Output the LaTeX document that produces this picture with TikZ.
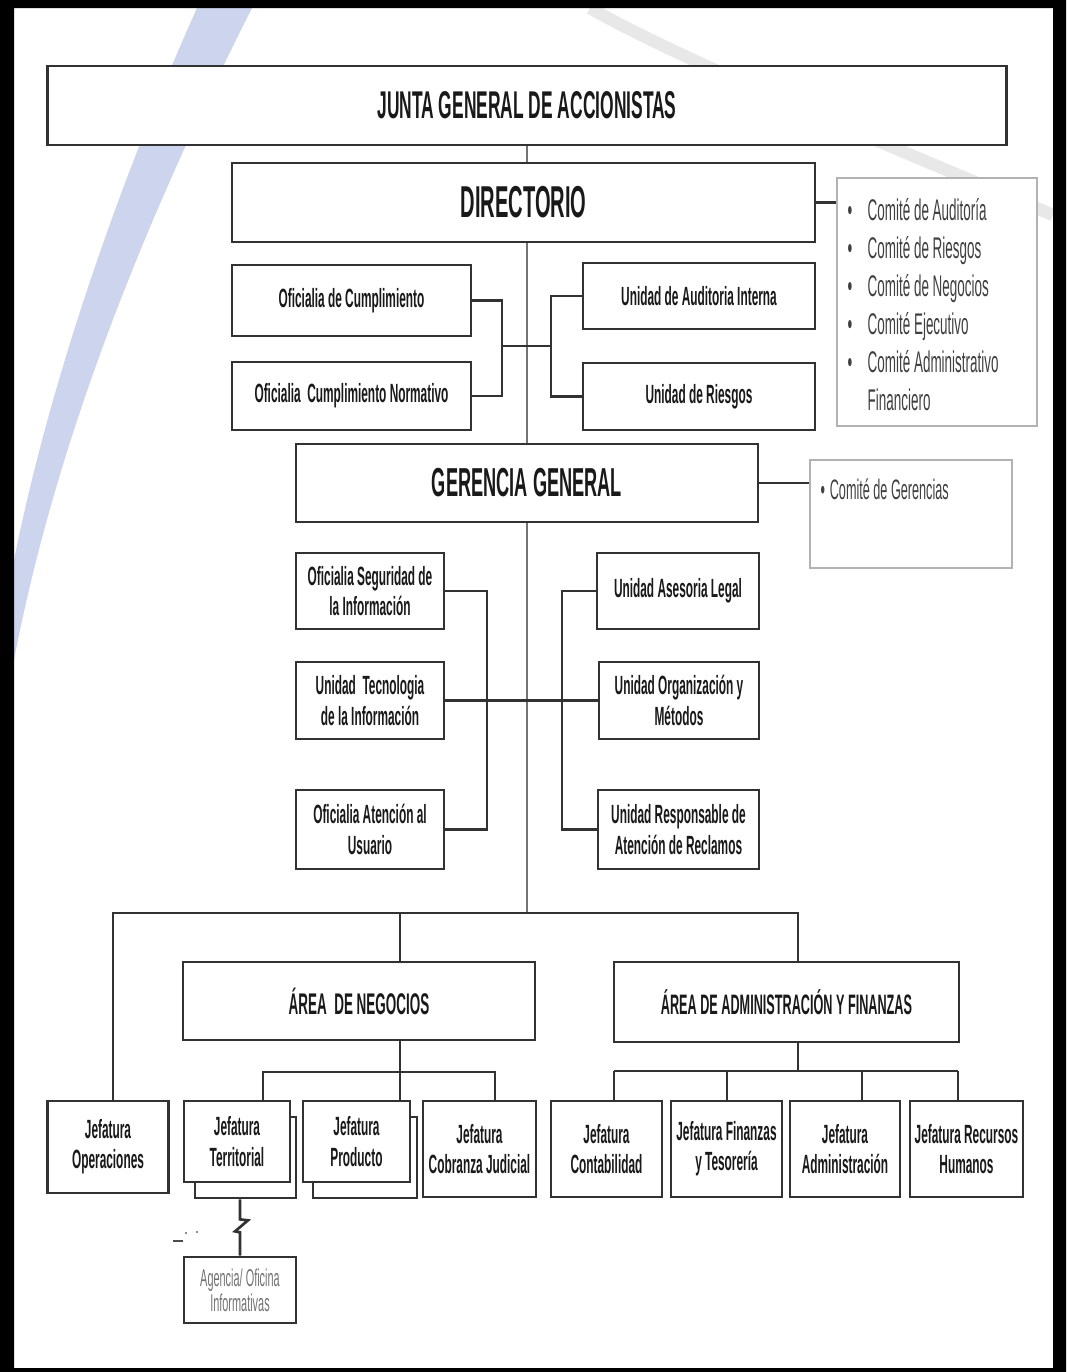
\documentclass[tikz,border=0pt]{standalone}
\usepackage{fontspec}
\setmainfont{Liberation Sans}[FakeStretch=0.45]
\usetikzlibrary{backgrounds}
\definecolor{marca}{RGB}{205,212,237}
\definecolor{linea}{RGB}{50,50,50}

\begin{document}
\begin{tikzpicture}[
  x=0.01cm, y=-0.01cm,
  caja/.style={draw=linea, line width=0.75pt, fill=white, inner sep=1pt, align=center, text=black!90,
    font=\fontsize{7.5}{8.6}\selectfont\bfseries},
  comite/.style={draw=black!30, line width=0.5pt, fill=white},
  lista/.style={align=left, inner sep=0pt, text=black!75, font=\fontsize{8.5}{10.8}\selectfont},
  conn/.style={draw=linea, line width=0.75pt},
  tronco/.style={draw=black!55, line width=0.4pt}
]
  \useasboundingbox (0,0) rectangle (1066,1372);

  % Niveles superiores
  \node[caja, minimum width=9.58cm, minimum height=0.79cm, font=\fontsize{11}{13}\selectfont\bfseries] (junta) at (527,105.5) {JUNTA GENERAL DE ACCIONISTAS};
  \node[caja, minimum width=5.83cm, minimum height=0.79cm, font=\fontsize{12.7}{15}\selectfont\bfseries] (dir) at (523.5,202.5) {DIRECTORIO};
  \node[caja, minimum width=4.62cm, minimum height=0.78cm, font=\fontsize{11.5}{14}\selectfont\bfseries] (ger) at (527,483) {GERENCIA GENERAL};

  % Comités
  \node[comite, minimum width=2cm, minimum height=2.48cm] (comdir) at (937,302) {};
  \node[lista, anchor=north west] (comdirtxt) at (847,198) {\makebox[0.2cm][l]{•}Comité de Auditoría\\
    \makebox[0.2cm][l]{•}Comité de Riesgos\\
    \makebox[0.2cm][l]{•}Comité de Negocios\\
    \makebox[0.2cm][l]{•}Comité Ejecutivo\\
    \makebox[0.2cm][l]{•}Comité Administrativo\\
    \makebox[0.2cm][l]{}Financiero};
  \node[comite, minimum width=2.02cm, minimum height=1.08cm] (comger) at (911,514) {};
  \node[lista, anchor=west, font=\fontsize{8}{10}\selectfont] (comgertxt) at (820,489) {•\,Comité de Gerencias};
  \draw[conn] (dir.east) -- (dir.east -| comdir.west);
  \draw[conn] (ger.east) -- (ger.east -| comger.west);

  % Unidades del directorio
  \node[caja, minimum width=2.39cm, minimum height=0.71cm] (ofcum) at (351.5,300.5) {Oficialia de Cumplimiento};
  \node[caja, minimum width=2.39cm, minimum height=0.68cm] (ofnor) at (351.5,396) {Oficialia\ \ Cumplimiento Normativo};
  \node[caja, minimum width=2.32cm, minimum height=0.66cm] (uaud) at (699,296) {Unidad de Auditoria Interna};
  \node[caja, minimum width=2.32cm, minimum height=0.67cm] (uries) at (699,396.5) {Unidad de Riesgos};
  \coordinate (bi) at (502,346);
  \coordinate (bd) at (551,346);
  \draw[conn] (ofcum.east) -| (bi) |- (ofnor.east);
  \draw[conn] (uaud.west) -| (bd) |- (uries.west);
  \draw[conn] (bi) -- (bd);

  % Unidades de la gerencia
  \node[caja, minimum width=1.48cm, minimum height=0.76cm] (ofseg) at (370,591) {Oficialia Seguridad de\\la Información};
  \node[caja, minimum width=1.48cm, minimum height=0.77cm] (utec) at (370,700.5) {Unidad\ \ Tecnologia\\de la Información};
  \node[caja, minimum width=1.48cm, minimum height=0.79cm] (ofate) at (370,829.5) {Oficialia Atención al\\Usuario};
  \node[caja, minimum width=1.62cm, minimum height=0.76cm] (uleg) at (678,591) {Unidad Asesoria Legal};
  \node[caja, minimum width=1.60cm, minimum height=0.77cm] (uorg) at (679,700.5) {Unidad Organización y\\Métodos};
  \node[caja, minimum width=1.61cm, minimum height=0.79cm] (urec) at (678.5,829.5) {Unidad Responsable de\\Atención de Reclamos};
  \coordinate (ci) at (487,700);
  \coordinate (cd) at (562,700);
  \draw[conn] (ofseg.east) -| (ci) |- (ofate.east);
  \draw[conn] (uleg.west) -| (cd) |- (urec.west);
  \draw[conn] (utec.east) -- (uorg.west);

  % Áreas
  \node[caja, minimum width=3.52cm, minimum height=0.78cm, font=\fontsize{8.5}{10}\selectfont\bfseries] (aneg) at (359,1001) {ÁREA\ \ DE NEGOCIOS};
  \node[caja, minimum width=3.45cm, minimum height=0.80cm, font=\fontsize{8}{10}\selectfont\bfseries] (aadm) at (786.5,1002) {ÁREA DE ADMINISTRACIÓN Y FINANZAS};

  % Jefaturas
  \node[caja, minimum width=1.21cm, minimum height=0.92cm] (jope) at (108,1147) {Jefatura\\Operaciones};
  \node[caja, minimum width=1.01cm, minimum height=0.81cm] (jterb) at (245.5,1157.5) {};
  \node[caja, minimum width=1.04cm, minimum height=0.81cm] (jprob) at (365,1157.5) {};
  \node[caja, minimum width=1.06cm, minimum height=0.81cm] (jter) at (237,1141.5) {Jefatura\\Territorial};
  \node[caja, minimum width=1.07cm, minimum height=0.81cm] (jpro) at (356.5,1141.5) {Jefatura\\Producto};
  \node[caja, minimum width=1.13cm, minimum height=0.96cm] (jcob) at (479.5,1149) {Jefatura\\Cobranza Judicial};
  \node[caja, minimum width=1.11cm, minimum height=0.96cm] (jcon) at (606.5,1149) {Jefatura\\Contabilidad};
  \node[caja, minimum width=1.11cm, minimum height=0.96cm] (jfin) at (726.5,1149) {Jefatura Finanzas\\y Tesorería};
  \node[caja, minimum width=1.10cm, minimum height=0.96cm] (jadm) at (845,1149) {Jefatura\\Administración};
  \node[caja, minimum width=1.13cm, minimum height=0.96cm] (jrh) at (966.5,1149) {Jefatura Recursos\\Humanos};
  \node[caja, minimum width=1.12cm, minimum height=0.66cm, text=black!55,
    font=\fontsize{6.9}{7.2}\selectfont] (agen) at (240,1290) {Agencia/ Oficina\\Informativas};

  % Barras de conexión
  \coordinate (b1) at (113,913);
  \coordinate (b2) at (400,913);
  \coordinate (b3) at (798,913);
  \draw[conn] (jope.north -| b1) |- (b3) -- (aadm.north -| b3);
  \draw[conn] (b2) -- (aneg.north -| b2);

  \coordinate (n1) at (263,1072);
  \coordinate (n2) at (400,1072);
  \coordinate (n3) at (495,1072);
  \draw[conn] (jter.north -| n1) |- (n3) -- (jcob.north -| n3);
  \draw[conn] (aneg.south -| n2) -- (jpro.north -| n2);

  \coordinate (a0) at (798,1071);
  \coordinate (a1) at (614,1071);
  \coordinate (a2) at (727,1071);
  \coordinate (a3) at (862,1071);
  \coordinate (a4) at (958,1071);
  \draw[conn] (aadm.south -| a0) -- (a0);
  \draw[conn] (a1) -- (a4);
  \foreach \p/\c in {a1/jcon, a2/jfin, a3/jadm, a4/jrh} {
    \draw[conn] (\p) -- (\c.north -| \p);
  }

  % Enlace cortado hacia agencias
  \draw[conn] (jterb.south -| agen.north) -- ++(0,20) -- ++(8,1) -- ++(-13,11) -- ++(5,1) -- (agen.north);
  \draw[black!70, line width=0.6pt] (173,1241) -- (183,1241);
  \fill[black!60] (186,1233) circle (1.2);
  \fill[black!60] (197,1232) circle (1.2);

  % Fondo: marca de agua y eje central
  \begin{scope}[on background layer]
    \fill[marca] (197,8) .. controls (120,180) and (50,380) .. (14,560) -- (14,660)
      .. controls (60,420) and (160,190) .. (252,8) -- cycle;
    \draw[black!9, line width=3.5pt] (590,8) .. controls (680,60) and (900,150) .. (1053,215);
    \draw[tronco] (junta.south) -- (junta.south |- b2);
  \end{scope}

  % Marco
  \fill[black, even odd rule] (0,0) rectangle (1066,1372) (14,8) rectangle (1053,1368);
\end{tikzpicture}
\end{document}
